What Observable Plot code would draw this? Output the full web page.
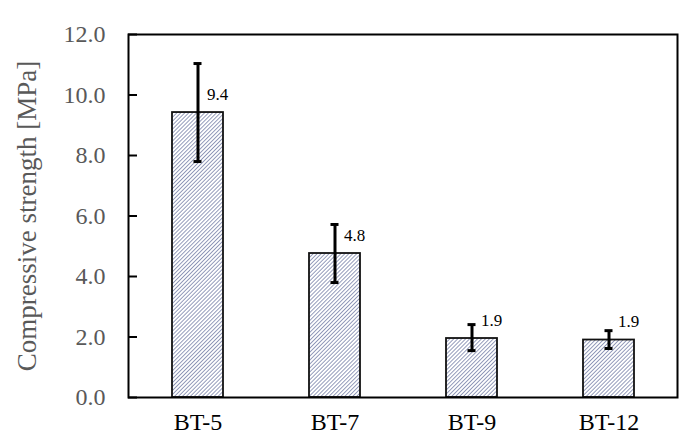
<!DOCTYPE html>
<html><head><meta charset="utf-8">
<script src="https://cdn.jsdelivr.net/npm/d3@7"></script>
<script src="https://cdn.jsdelivr.net/npm/@observablehq/plot@0.6"></script>
<style>body{margin:0;background:#fff}</style>
</head><body><div id="chart"></div>
<script>
const categories = ["BT-5", "BT-7", "BT-9", "BT-12"];
const strength = [9.42, 4.76, 1.95, 1.90];
const errLow = [7.80, 3.80, 1.55, 1.62];
const errHigh = [11.04, 5.72, 2.41, 2.21];
const valueLabels = ["9.4", "4.8", "1.9", "1.9"];
const yTicks = [0, 2, 4, 6, 8, 10, 12];

const serif = "Liberation Serif, Times New Roman, serif";
const data = categories.map((c, i) => ({name: c, value: strength[i], lo: errLow[i], hi: errHigh[i], label: valueLabels[i]}));

const chart = Plot.plot({
  width: 695, height: 443,
  marginLeft: 128, marginRight: 18, marginTop: 34, marginBottom: 46,
  style: {fontFamily: serif, background: "#fff", fontSize: "24px"},
  x: {domain: categories, paddingInner: 0.63, paddingOuter: 0.315, label: null},
  y: {domain: [0, 12], label: null},
  marks: [
    Plot.barY(data, {x: "name", y: "value", fill: "url(#hatch)", stroke: "#111", strokeWidth: 1.8}),
    Plot.ruleX(data, {x: "name", y1: "lo", y2: "hi", stroke: "#000", strokeWidth: 3}),
    Plot.tickY(data, {x: "name", y: "lo", stroke: "#000", strokeWidth: 3, insetLeft: 21.5, insetRight: 21.5}),
    Plot.tickY(data, {x: "name", y: "hi", stroke: "#000", strokeWidth: 3, insetLeft: 21.5, insetRight: 21.5}),
    Plot.text(data, {x: "name", y: "value", text: "label", dx: 9, dy: -18, textAnchor: "start", fontSize: 17, fontFamily: serif, fill: "#000"}),
    Plot.axisX({tickSize: 0, tickPadding: 15, fill: "#000", fontFamily: serif, label: null}),
    Plot.axisY(yTicks, {tickSize: 0, tickPadding: 23, tickFormat: d3.format(".1f"), fill: "#595959", fontFamily: serif,
      label: "Compressive strength [MPa]", labelAnchor: "center", labelArrow: "none", labelOffset: 112}),
    Plot.tickY(yTicks, {y: d => d, insetRight: 540, stroke: "#000", strokeWidth: 2}),
    Plot.frame({stroke: "#000", strokeWidth: 2})
  ]
});

const svg = d3.select(chart);
const defs = svg.insert("defs", ":first-child");
const pat = defs.append("pattern").attr("id", "hatch").attr("patternUnits", "userSpaceOnUse")
  .attr("width", 2.8).attr("height", 2.8).attr("patternTransform", "rotate(45)");
pat.append("rect").attr("width", 2.8).attr("height", 2.8).attr("fill", "#fff");
pat.append("line").attr("x1", 0).attr("y1", 0).attr("x2", 0).attr("y2", 2.8).attr("stroke", "#2b3a78").attr("stroke-width", 1.0);
svg.selectAll("[aria-label='y-axis label'] text").attr("fill", "#595959").attr("font-size", 27);
svg.selectAll("[aria-label='y-axis label']").attr("font-size", 27);
document.getElementById("chart").appendChild(chart);
</script>
</body></html>
